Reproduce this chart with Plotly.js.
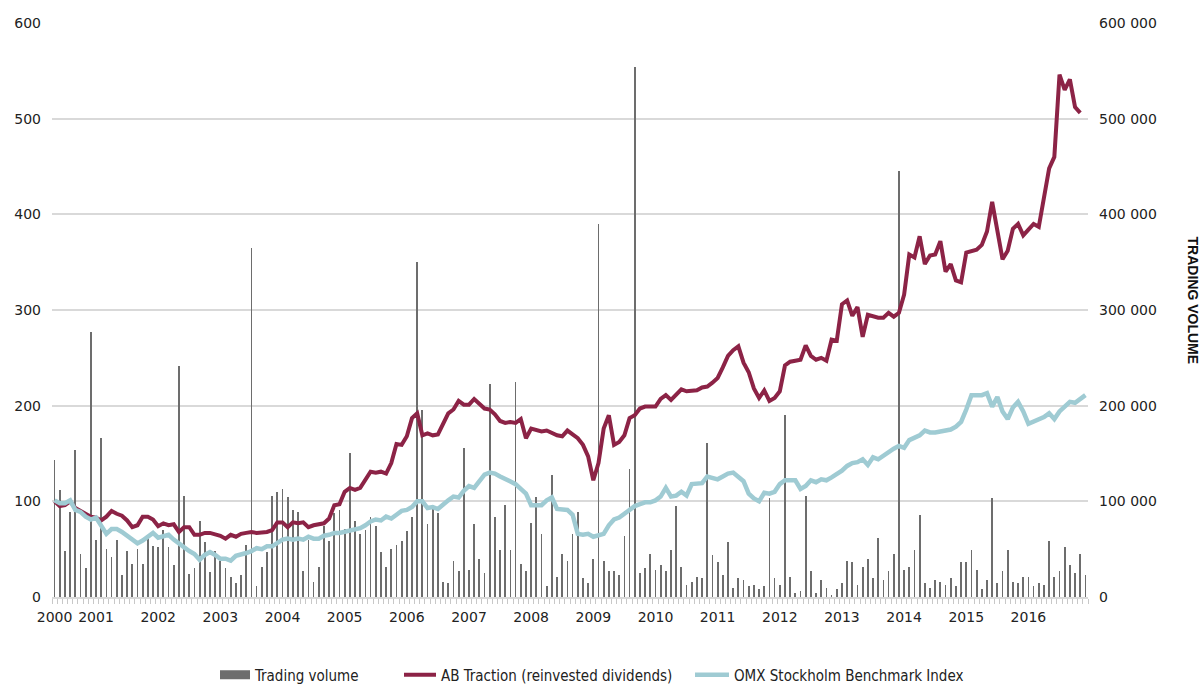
<!DOCTYPE html>
<html><head><meta charset="utf-8">
<script src="https://cdn.plot.ly/plotly-3.0.1.min.js"></script>
<style>html,body{margin:0;padding:0;background:#fff}#chart{width:1201px;height:686px}</style>
</head><body><div id="chart"></div>
<script>
// Monthly data, first month = May 2000, last = Dec 2016
const startYear = 2000, startMonth = 5;

const volume = [
143000,112000,48000,89000,154000,45000,30000,277000,60000,166000,
50000,42000,60000,23000,48000,35000,50000,35000,62000,53000,
52000,70000,52000,33000,241000,106000,24000,30000,79000,57000,
26000,48000,38000,30000,21000,15000,23000,54000,365000,11000,
31000,47000,106000,110000,113000,105000,91000,89000,27000,60000,
16000,31000,74000,59000,88000,91000,71000,151000,79000,66000,
70000,84000,74000,47000,31000,50000,54000,59000,69000,84000,
350000,195000,76000,96000,88000,16000,15000,38000,27000,156000,
28000,76000,40000,25000,223000,84000,49000,96000,49000,225000,
35000,27000,77000,105000,66000,11000,128000,21000,45000,38000,
66000,89000,20000,15000,40000,390000,38000,27000,27000,23000,
64000,134000,554000,25000,30000,45000,28000,33000,27000,49000,
95000,31000,13000,16000,21000,20000,161000,44000,37000,23000,
57000,9000,20000,18000,11000,13000,8000,11000,103000,20000,
13000,190000,21000,4000,6000,106000,27000,4000,18000,9000,
2000,8000,15000,38000,37000,13000,31000,40000,20000,62000,
18000,27000,45000,445000,28000,31000,49000,86000,15000,9000,
18000,16000,13000,20000,11000,37000,37000,49000,28000,8000,
18000,104000,15000,27000,49000,16000,15000,21000,21000,11000,
15000,13000,59000,21000,27000,52000,33000,25000,45000,23000
];

const abTraction = [
100,95,96,100,93,90,86,84,83,80,
84,90,87,85,80,73,75,84,84,81,
74,77,75,76,68,73,73,65,65,67,
67,66,64,61,65,63,66,67,68,67,
67,68,70,78,78,73,78,77,78,73,
75,76,77,82,96,97,110,114,112,114,
122,131,130,131,129,140,160,159,168,187,
192,169,171,169,170,181,192,196,205,201,
201,207,202,197,196,191,184,182,183,182,
186,166,176,174,173,174,171,169,168,174,
170,166,159,147,122,140,176,190,159,162,
169,187,190,197,199,199,199,207,211,206,
211,217,215,215,216,219,220,224,229,240,
252,258,262,245,235,218,208,216,205,208,
215,242,246,247,248,263,252,248,250,247,
269,268,306,310,294,303,272,295,293,292,
292,297,293,297,316,358,355,377,348,357,
358,372,340,348,331,329,360,362,363,368,
382,413,385,353,362,385,390,378,384,390,
387,420,448,460,546,530,541,512,506,null
];

const omx = [
101,98,98,101,91,89,84,81,83,74,
66,71,71,68,64,60,56,59,63,67,
62,63,65,60,56,51,48,45,39,44,
47,44,40,40,38,43,44,46,48,51,
50,53,53,56,60,61,60,61,60,63,
61,61,64,65,67,67,68,70,70,72,
75,79,81,80,84,82,86,90,91,94,
100,100,93,94,92,97,101,105,104,111,
116,114,121,128,130,129,126,123,121,118,
113,108,96,96,96,101,104,92,91,91,
86,66,65,66,63,64,66,75,81,83,
87,92,95,97,99,99,101,105,114,105,
106,110,106,118,118,119,126,124,123,126,
129,130,126,121,108,103,100,109,108,110,
118,122,122,122,113,116,122,120,123,122,
125,128,132,137,140,141,144,138,146,144,
148,152,155,158,156,164,167,169,174,172,
172,173,174,175,178,183,196,211,211,211,
213,199,209,194,186,198,204,194,181,183,
186,188,192,186,194,199,204,203,207,211
];

const seriesNames = ['Trading volume', 'AB Traction (reinvested dividends)', 'OMX Stockholm Benchmark Index'];

// month categories and year tick labels
const categories = volume.map((_, i) => {
  const m = startMonth - 1 + i;
  return (startYear + Math.floor(m / 12)) + '-' + String(m % 12 + 1).padStart(2, '0');
});
const idx = categories.map((_, i) => i);
const tickvals = [], ticktext = [];
categories.forEach((c, i) => {
  const [y, m] = c.split('-');
  if (i === 0 || m === '01') { tickvals.push(i); ticktext.push(y); }
});

const colVol = '#6d6d6d', colAB = '#8c2346', colOMX = '#9fcbd3';
const tickFont = {family: 'DejaVu Sans, sans-serif', size: 14, color: '#222'};
const legFont = {family: 'Liberation Sans Narrow, DejaVu Sans Condensed, sans-serif', size: 15, color: '#222'};

const traces = [
  {type: 'bar', x: idx, y: volume, yaxis: 'y', marker: {color: colVol}, width: 0.34,
   showlegend: false, name: seriesNames[0], hoverinfo: 'y'},
  {type: 'scatter', mode: 'lines', x: [null], y: [null], yaxis: 'y', name: seriesNames[0],
   line: {color: colVol, width: 9}, legend: 'legend'},
  {type: 'scatter', mode: 'lines', x: idx, y: abTraction, yaxis: 'y2', name: seriesNames[1],
   line: {color: colAB, width: 4}, legend: 'legend2'},
  {type: 'scatter', mode: 'lines', x: idx, y: omx, yaxis: 'y2', name: seriesNames[2],
   line: {color: colOMX, width: 4.5}, legend: 'legend3'}
];

const W = 1201, H = 686, L = 52, R = 113, T = 23, B = 89;
const pw = W - L - R, ph = H - T - B;
const legY = -(675 - (H - B)) / ph;
const leg = (px, iw) => ({orientation: 'h', x: (px - L) / pw, xanchor: 'left', y: legY, yanchor: 'middle',
  font: legFont, bgcolor: 'rgba(0,0,0,0)', borderwidth: 0, itemwidth: iw || 30});

const layout = {
  width: W, height: H,
  margin: {l: L, r: R, t: T, b: B, autoexpand: false},
  paper_bgcolor: '#fff', plot_bgcolor: '#fff',
  separators: '. ',
  bargap: 0,
  xaxis: {range: [-0.5, categories.length - 0.5], tickmode: 'array', tickvals: tickvals, ticktext: ticktext,
    ticks: '', showgrid: false, zeroline: false, showline: true, linecolor: '#d9d9d9', linewidth: 2,
    tickfont: tickFont, ticklabelstandoff: 6,
    minor: {tickmode: 'linear', tick0: -0.5, dtick: 1, ticks: 'outside', ticklen: 5, tickwidth: 1,
      tickcolor: '#c8c8c8', showgrid: false}},
  yaxis: {range: [0, 600000], dtick: 100000, tickformat: ',d', side: 'right', showgrid: true,
    gridcolor: '#d9d9d9', gridwidth: 2, zeroline: false, ticks: '', tickfont: tickFont, ticklabelstandoff: 10},
  yaxis2: {range: [0, 600], dtick: 100, overlaying: 'y', side: 'left', showgrid: false, zeroline: false,
    ticks: '', tickfont: tickFont, ticklabelstandoff: 10},
  legend: leg(215), legend2: leg(399, 32), legend3: leg(690, 34),
  annotations: [{text: '<b>TRADING VOLUME</b>', xref: 'paper', yref: 'paper',
    x: (1192.5 - L) / pw, y: ((H - B) - 300) / ph, textangle: 90, showarrow: false,
    xanchor: 'center', yanchor: 'middle',
    font: {family: 'Liberation Sans, Arial, sans-serif', size: 14, color: '#111'}}]
};

Plotly.newPlot('chart', traces, layout, {staticPlot: true, displayModeBar: false});
</script></body></html>
